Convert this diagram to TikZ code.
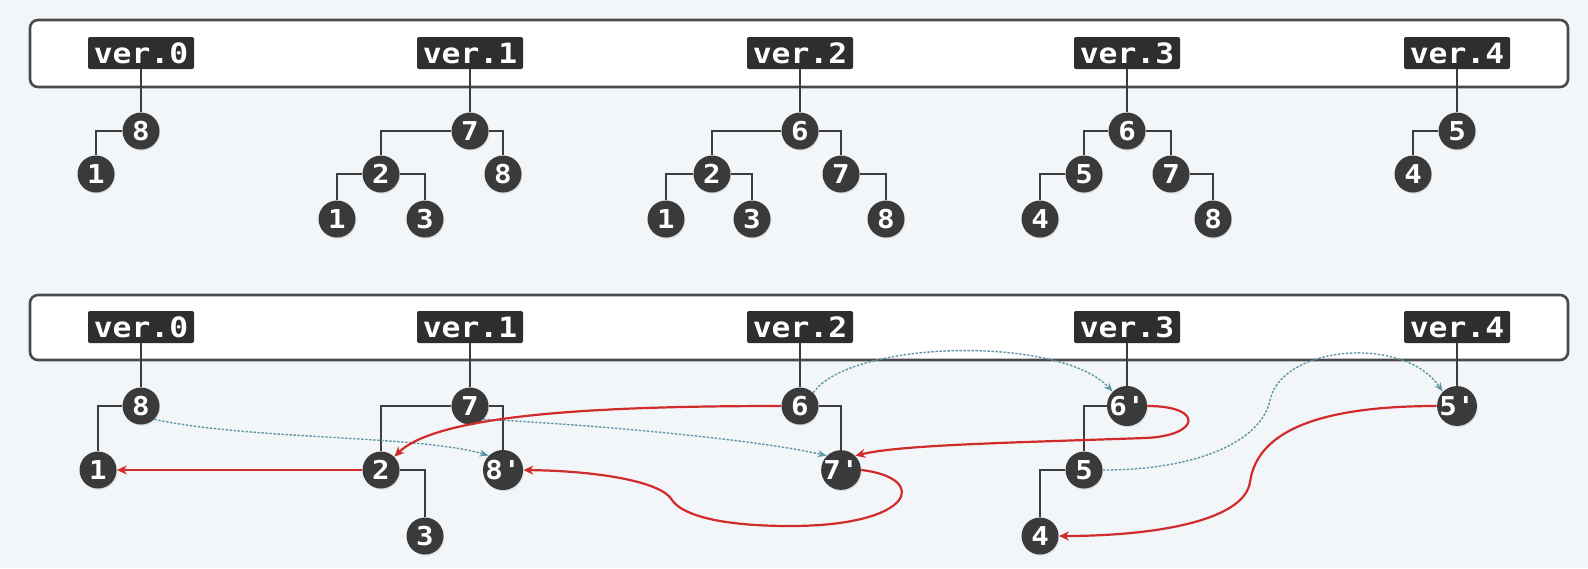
\documentclass[tikz,border=0pt]{standalone}
\usepackage{fontspec}
\usepackage{graphicx}
\setmonofont{DejaVu Sans Mono}
\usetikzlibrary{arrows.meta,shadows}
\definecolor{bg}{HTML}{F3F6F9}
\definecolor{boxline}{HTML}{4A4A4A}
\definecolor{labelgray}{HTML}{2E2E2E}
\definecolor{nodegray}{HTML}{3A3A3A}
\definecolor{treegray}{HTML}{3C3C3C}
\definecolor{myred}{HTML}{D12B2B}
\definecolor{myteal}{HTML}{5E97A6}
\newcommand{\wide}[1]{\scalebox{1.12}[1]{#1}}
\tikzset{
  verbox/.style={fill=labelgray, text=white, font=\ttfamily\bfseries\fontsize{14}{14}\selectfont,
    minimum width=53pt, minimum height=16pt, inner sep=0pt, rounded corners=1pt},
  nd/.style={circle, fill=nodegray, text=white, font=\ttfamily\bfseries\fontsize{13}{13}\selectfont,
    minimum size=18.5pt, inner sep=0pt,
    drop shadow={opacity=0.22, shadow xshift=0.4pt, shadow yshift=-0.6pt}},
  panel/.style={draw=boxline, fill=white, line width=1.3pt, rounded corners=4pt},
  tree/.style={draw=treegray, line width=1.3pt},
  redarrow/.style={draw=myred, line width=1.1pt, -{Stealth[length=5pt,width=4.5pt]}},
  tealarrow/.style={draw=myteal, line width=0.7pt, dash pattern=on 1.2pt off 0.8pt,
    -{Stealth[length=4.5pt,width=3.5pt]}},
}
\begin{document}
\begin{tikzpicture}[x=0.5pt,y=-0.5pt]
\path[use as bounding box, fill=bg] (0,0) rectangle (1588,568);
% panels
\path[panel] (30,20) rectangle (1568,87);
\path[panel] (30,295) rectangle (1568,360);
% labels top
\node[verbox] (tv0) at (141,53) {\wide{ver.0}};
\node[verbox] (tv1) at (470,53) {\wide{ver.1}};
\node[verbox] (tv2) at (800,53) {\wide{ver.2}};
\node[verbox] (tv3) at (1127,53) {\wide{ver.3}};
\node[verbox] (tv4) at (1457,53) {\wide{ver.4}};
% labels bottom
\node[verbox] (bv0) at (141,327) {\wide{ver.0}};
\node[verbox] (bv1) at (470,327) {\wide{ver.1}};
\node[verbox] (bv2) at (800,327) {\wide{ver.2}};
\node[verbox] (bv3) at (1127,327) {\wide{ver.3}};
\node[verbox] (bv4) at (1457,327) {\wide{ver.4}};
% top trees
\node[nd] (a8) at (141,131) {\wide{8}};
\node[nd] (a1) at (96,174) {\wide{1}};
\node[nd] (b7) at (470,131) {\wide{7}};
\node[nd] (b2) at (381,174) {\wide{2}};
\node[nd] (b8) at (503,174) {\wide{8}};
\node[nd] (b1) at (337,219) {\wide{1}};
\node[nd] (b3) at (425,219) {\wide{3}};
\node[nd] (c6) at (800,131) {\wide{6}};
\node[nd] (c2) at (712,174) {\wide{2}};
\node[nd] (c7) at (841,174) {\wide{7}};
\node[nd] (c1) at (666,219) {\wide{1}};
\node[nd] (c3) at (752,219) {\wide{3}};
\node[nd] (c8) at (886,219) {\wide{8}};
\node[nd] (d6) at (1127,131) {\wide{6}};
\node[nd] (d5) at (1084,174) {\wide{5}};
\node[nd] (d7) at (1171,174) {\wide{7}};
\node[nd] (d4) at (1040,219) {\wide{4}};
\node[nd] (d8) at (1213,219) {\wide{8}};
\node[nd] (e5) at (1457,131) {\wide{5}};
\node[nd] (e4) at (1413,174) {\wide{4}};
% top edges
\draw[tree] (tv0.south) -- (a8.north);
\draw[tree] (a8.west) -| (a1.north);
\draw[tree] (tv1.south) -- (b7.north);
\draw[tree] (b7.west) -| (b2.north);
\draw[tree] (b7.east) -| (b8.north);
\draw[tree] (b2.west) -| (b1.north);
\draw[tree] (b2.east) -| (b3.north);
\draw[tree] (tv2.south) -- (c6.north);
\draw[tree] (c6.west) -| (c2.north);
\draw[tree] (c6.east) -| (c7.north);
\draw[tree] (c2.west) -| (c1.north);
\draw[tree] (c2.east) -| (c3.north);
\draw[tree] (c7.east) -| (c8.north);
\draw[tree] (tv3.south) -- (d6.north);
\draw[tree] (d6.west) -| (d5.north);
\draw[tree] (d6.east) -| (d7.north);
\draw[tree] (d5.west) -| (d4.north);
\draw[tree] (d7.east) -| (d8.north);
\draw[tree] (tv4.south) -- (e5.north);
\draw[tree] (e5.west) -| (e4.north);
% bottom nodes
\node[nd] (p8) at (141,406) {\wide{8}};
\node[nd] (p1) at (98,470) {\wide{1}};
\node[nd] (p7) at (470,406) {\wide{7}};
\node[nd] (p2) at (381,470) {\wide{2}};
\node[nd] (p8p) at (503,470) {\wide{8'}};
\node[nd] (p3) at (425,536) {\wide{3}};
\node[nd] (p6) at (800,406) {\wide{6}};
\node[nd] (p7p) at (841,470) {\wide{7'}};
\node[nd] (p6p) at (1127,406) {\wide{6'}};
\node[nd] (p5) at (1084,470) {\wide{5}};
\node[nd] (p4) at (1040,536) {\wide{4}};
\node[nd] (p5p) at (1457,406) {\wide{5'}};
% bottom edges
\draw[tree] (bv0.south) -- (p8.north);
\draw[tree] (p8.west) -| (p1.north);
\draw[tree] (bv1.south) -- (p7.north);
\draw[tree] (p7.west) -| (p2.north);
\draw[tree] (p7.east) -| (p8p.north);
\draw[tree] (p2.east) -| (p3.north);
\draw[tree] (bv2.south) -- (p6.north);
\draw[tree] (p6.east) -| (p7p.north);
\draw[tree] (bv3.south) -- (p6p.north);
\draw[tree] (p6p.west) -| (p5.north);
\draw[tree] (p5.west) -| (p4.north);
\draw[tree] (bv4.south) -- (p5p.north);
% teal dotted arrows
\draw[tealarrow] (p8.south east) .. controls (250,440) and (420,435) .. (p8p.north west);
\draw[tealarrow] (p7.south east) .. controls (600,425) and (760,440) .. (p7p.north west);
\draw[tealarrow] (p6.north east) .. controls (850,340) and (1060,335) .. (p6p.north west);
\draw[tealarrow] (p5.east) .. controls (1200,470) and (1262,440) .. (1270,400)
  .. controls (1282,345) and (1405,335) .. (p5p.north west);
% red arrows
\draw[redarrow] (p2.west) -- (p1.east);
\draw[redarrow] (p6.west) .. controls (620,406) and (440,412) .. (p2.north east);
\draw[redarrow] (p7p.east) .. controls (930,478) and (915,526) .. (790,526)
  .. controls (720,526) and (682,515) .. (672,500)
  .. controls (662,482) and (600,471) .. (p8p.east);
\draw[redarrow] (p6p.east) .. controls (1205,406) and (1200,436) .. (1145,438)
  .. controls (1000,443) and (900,445) .. (p7p.north east);
\draw[redarrow] (p5p.west) .. controls (1300,406) and (1256,440) .. (1250,482)
  .. controls (1244,522) and (1150,536) .. (p4.east);
\end{tikzpicture}
\end{document}
